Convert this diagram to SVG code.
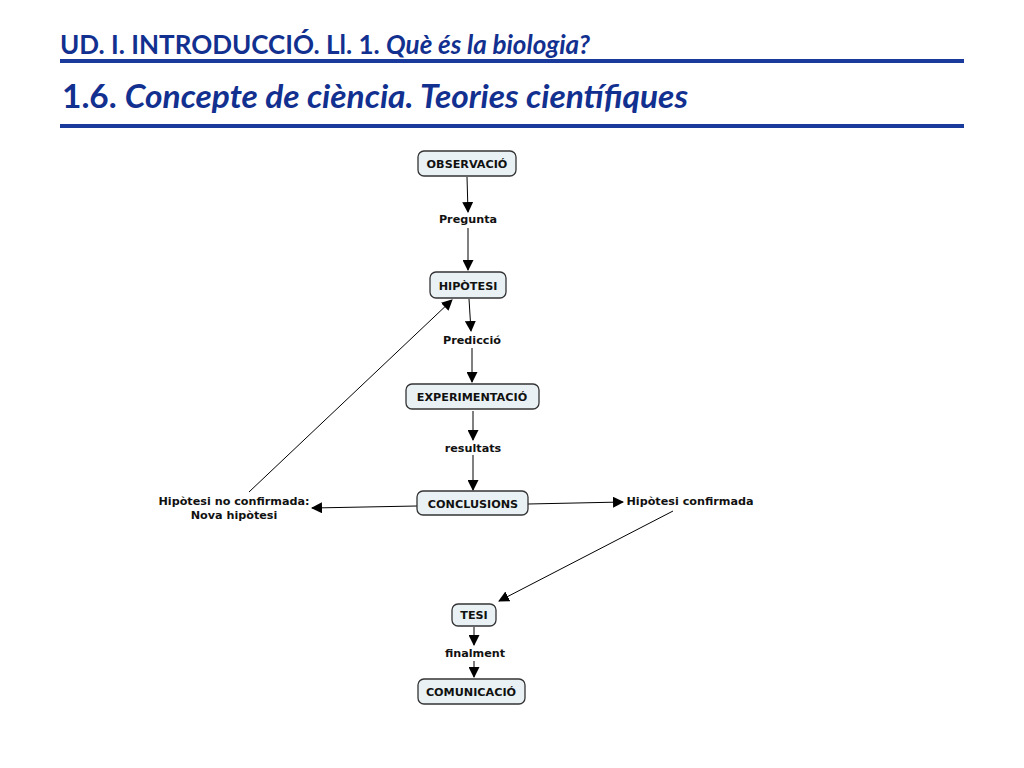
<svg xmlns="http://www.w3.org/2000/svg" width="1024" height="768" viewBox="0 0 1024 768">
<defs>
<marker id="ah" markerWidth="11" markerHeight="11" refX="10" refY="5.5" orient="auto" markerUnits="userSpaceOnUse">
<path d="M0,0 L11,5.5 L0,11 Z" fill="#000"/>
</marker>
<style>
.t{font-family:Lato,"Liberation Sans",sans-serif;font-weight:bold;fill:#12308f}
.box{fill:#e9f1f4;stroke:#333;stroke-width:1.3}
.nt{font-family:"DejaVu Sans",Verdana,sans-serif;font-weight:bold;font-size:11.2px;fill:#111;text-anchor:middle}
.c{stroke:#000;stroke-width:1;fill:none;marker-end:url(#ah)}
.rule{stroke:#1a3a9c;stroke-width:4}
</style>
</defs>
<rect width="1024" height="768" fill="#fff"/>
<g id="header">
<text class="t" x="60" y="54" font-size="27" textLength="530" lengthAdjust="spacingAndGlyphs">UD. I. INTRODUCCIÓ. Ll. 1. <tspan font-style="italic">Què és la biologia?</tspan></text>
<line class="rule" x1="60" y1="61" x2="964" y2="61"/>
<text class="t" x="62" y="108" font-size="33" textLength="626" lengthAdjust="spacingAndGlyphs">1.6. <tspan font-style="italic">Concepte de ciència. Teories científiques</tspan></text>
<line class="rule" x1="60" y1="126" x2="964" y2="126"/>
</g>
<g id="connectors">
<line class="c" x1="467" y1="177" x2="468" y2="212"/>
<line class="c" x1="468" y1="228" x2="468" y2="270"/>
<line class="c" x1="469" y1="299" x2="471" y2="331"/>
<line class="c" x1="472" y1="348" x2="472" y2="382"/>
<line class="c" x1="473" y1="411" x2="473" y2="440"/>
<line class="c" x1="473" y1="455" x2="473" y2="490"/>
<line class="c" x1="417" y1="506" x2="312" y2="508"/>
<line class="c" x1="528" y1="504" x2="623" y2="502"/>
<line class="c" x1="249" y1="492" x2="452" y2="300"/>
<line class="c" x1="673" y1="511" x2="499" y2="601"/>
<line class="c" x1="474" y1="627" x2="474" y2="645"/>
<line class="c" x1="474" y1="661" x2="474" y2="677"/>
</g>
<g id="n-observacio"><rect class="box" x="418" y="151" width="98" height="25" rx="6"/><text class="nt" x="467" y="168">OBSERVACIÓ</text></g>
<g id="l-pregunta"><text class="nt" x="468" y="223">Pregunta</text></g>
<g id="n-hipotesi"><rect class="box" x="430" y="272" width="76" height="26" rx="6"/><text class="nt" x="468" y="290">HIPÒTESI</text></g>
<g id="l-prediccio"><text class="nt" x="472" y="344">Predicció</text></g>
<g id="n-experimentacio"><rect class="box" x="406" y="384" width="133" height="25" rx="6"/><text class="nt" x="472" y="401">EXPERIMENTACIÓ</text></g>
<g id="l-resultats"><text class="nt" x="473" y="452">resultats</text></g>
<g id="n-conclusions"><rect class="box" x="417" y="491" width="111" height="24" rx="6"/><text class="nt" x="473" y="508">CONCLUSIONS</text></g>
<g id="l-noconf"><text class="nt" x="234" y="505">Hipòtesi no confirmada:</text><text class="nt" x="234" y="519">Nova hipòtesi</text></g>
<g id="l-conf"><text class="nt" x="690" y="505">Hipòtesi confirmada</text></g>
<g id="n-tesi"><rect class="box" x="452" y="604" width="44" height="22" rx="6"/><text class="nt" x="474" y="619">TESI</text></g>
<g id="l-finalment"><text class="nt" x="475" y="657">finalment</text></g>
<g id="n-comunicacio"><rect class="box" x="418" y="679" width="107" height="25" rx="6"/><text class="nt" x="471" y="696">COMUNICACIÓ</text></g>
</svg>
